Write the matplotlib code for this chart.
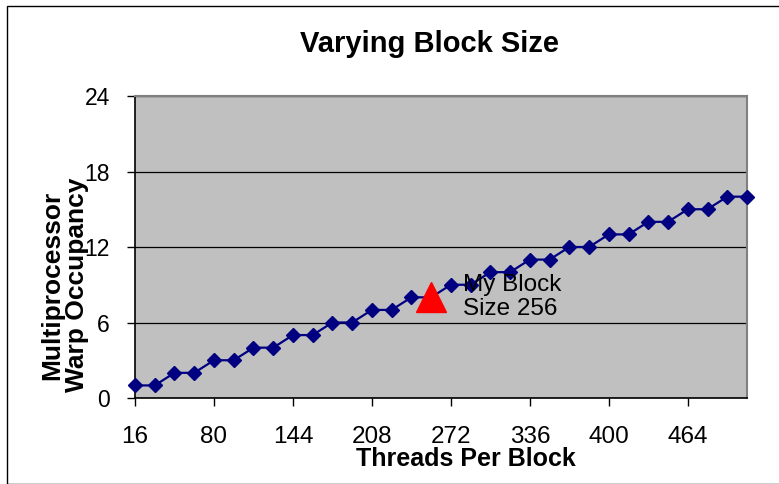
import numpy as np
import matplotlib
matplotlib.use('Agg')
import matplotlib.pyplot as plt
from matplotlib.patches import Rectangle

plt.rcParams['font.family'] = ['Liberation Sans', 'DejaVu Sans']

# данные
threads = [16, 32, 48, 64, 80, 96, 112, 128, 144, 160, 176, 192, 208, 224, 240, 256,
           272, 288, 304, 320, 336, 352, 368, 384, 400, 416, 432, 448, 464, 480, 496, 512]
warps = [1, 1, 2, 2, 3, 3, 4, 4, 5, 5, 6, 6, 7, 7, 8, 8,
         9, 9, 10, 10, 11, 11, 12, 12, 13, 13, 14, 14, 15, 15, 16, 16]
my_block = 256
my_warps = 8
y_ticks = [0, 6, 12, 18, 24]

W, H = 779, 484
fig = plt.figure(figsize=(W / 100, H / 100), dpi=100)
fig.patch.set_facecolor('white')

# рамка всей диаграммы
fig.add_artist(Rectangle((7 / W, 0.0), 1.0, 1 - 6 / H, transform=fig.transFigure,
                         fill=False, edgecolor='black', linewidth=1.0))

ax = fig.add_axes([135 / W, 1 - 398 / H, (747 - 135) / W, (398 - 96) / H])
ax.set_facecolor('#C0C0C0')

idx = np.arange(len(threads))
ax.plot(idx, warps, color='#000080', linewidth=1.6, marker='D', markersize=7,
        clip_on=False, zorder=3)
ax.plot(threads.index(my_block), my_warps, marker='^', color='#FF0000',
        markersize=22, linestyle='none', clip_on=False, zorder=4)

ax.set_xlim(0, len(threads) - 1)
ax.set_ylim(0, 24)
ax.set_yticks(y_ticks)
ax.set_xticks(idx[::4])
ax.set_xticklabels([str(t) for t in threads[::4]])
ax.yaxis.grid(True, color='black', linewidth=0.9)
ax.set_axisbelow(True)

for s in ['top', 'right']:
    ax.spines[s].set_color('#808080')
    ax.spines[s].set_linewidth(1.5)
for s in ['left', 'bottom']:
    ax.spines[s].set_color('black')
    ax.spines[s].set_linewidth(1.2)

ax.tick_params(axis='x', direction='out', length=6, width=1, pad=14, labelsize=17.5)
ax.tick_params(axis='y', direction='out', length=6, width=1, pad=12, labelsize=16.5)

ax.text(16.6, 8.0, 'My Block\nSize 256', fontsize=17.5, va='center', ha='left',
        linespacing=1.1, zorder=5)

fig.text(430 / W, 1 - 44 / H, 'Varying Block Size', fontsize=21, fontweight='bold',
         ha='center', va='center')
fig.text(466 / W, 1 - 459 / H, 'Threads Per Block', fontsize=18, fontweight='bold',
         ha='center', va='center')
fig.text(65 / W, 1 - 285 / H, 'Multiprocessor\nWarp Occupancy', fontsize=19,
         fontweight='bold', rotation=90, ha='center', va='center',
         multialignment='center', linespacing=1.05)

fig.savefig('out.png', dpi=100)
